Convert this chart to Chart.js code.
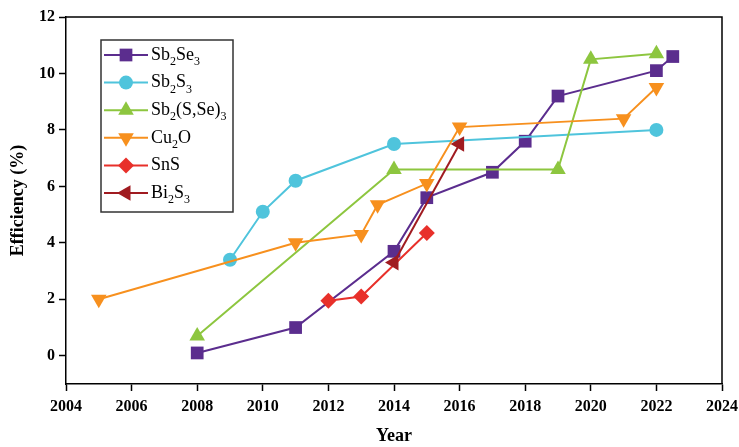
<!DOCTYPE html>
<html>
<head>
<meta charset="utf-8">
<script src="https://cdn.jsdelivr.net/npm/chart.js@4/dist/chart.umd.min.js"></script>
<style>
  html, body { margin: 0; padding: 0; background: #fff; }
  #wrap { width: 739px; height: 447px; }
</style>
</head>
<body>
<div id="wrap"><canvas id="eff_chart"></canvas></div>
<script>
// DATA (year, efficiency %)
const sb2se3_years = [2008, 2011, 2014, 2015, 2017, 2018, 2019, 2022, 2022.5];
const sb2se3_eff = [0.1, 1.0, 3.7, 5.6, 6.5, 7.6, 9.2, 10.1, 10.6];

const sb2s3_years = [2009, 2010, 2011, 2014, 2022];
const sb2s3_eff = [3.4, 5.1, 6.2, 7.5, 8.0];

const sb2sse3_years = [2008, 2014, 2019, 2020, 2022];
const sb2sse3_eff = [0.7, 6.6, 6.6, 10.5, 10.7];

const cu2o_years = [2005, 2011, 2013, 2013.5, 2015, 2016, 2021, 2022];
const cu2o_eff = [2.0, 4.0, 4.3, 5.35, 6.1, 8.1, 8.4, 9.5];

const sns_years = [2012, 2013, 2015];
const sns_eff = [1.95, 2.1, 4.35];

const bi2s3_years = [2014, 2016];
const bi2s3_eff = [3.3, 7.5];

// legend labels, parts flagged with 1 are drawn as subscripts
const legend_labels = [
	[['Sb'], ['2', 1], ['Se'], ['3', 1]],
	[['Sb'], ['2', 1], ['S'], ['3', 1]],
	[['Sb'], ['2', 1], ['(S,Se)'], ['3', 1]],
	[['Cu'], ['2', 1], ['O']],
	[['SnS']],
	[['Bi'], ['2', 1], ['S'], ['3', 1]]
];

const x_min = 2004, x_max = 2024;
const y_min = -1, y_max = 12;

const SERIF = "'Liberation Serif', 'DejaVu Serif', serif";

function pts(xs, ys) {
	return xs.map((x, i) => ({ x: x, y: ys[i] }));
}

function makeSet(label, xs, ys, color, style, radius, rotation) {
	return {
		label: label,
		data: pts(xs, ys),
		borderColor: color,
		backgroundColor: color,
		borderWidth: 2,
		pointStyle: style,
		pointRadius: radius,
		pointRotation: rotation || 0,
		pointBorderWidth: 0,
		pointBackgroundColor: color,
		fill: false,
		tension: 0
	};
}

const datasets = [
	makeSet('Sb2Se3', sb2se3_years, sb2se3_eff, '#5b2d8e', 'rect', 9),
	makeSet('Sb2S3', sb2s3_years, sb2s3_eff, '#4fc4dc', 'circle', 7),
	makeSet('Sb2(S,Se)3', sb2sse3_years, sb2sse3_eff, '#8dc63f', 'triangle', 9),
	makeSet('Cu2O', cu2o_years, cu2o_eff, '#f7901e', 'triangle', 9, 180),
	makeSet('SnS', sns_years, sns_eff, '#e8302a', 'rectRot', 8),
	makeSet('Bi2S3', bi2s3_years, bi2s3_eff, '#a01b20', 'triangle', 9, 270)
];
// later series are painted over earlier ones
datasets.forEach((d, i) => d.order = datasets.length - i);

// FRAME + LEGEND PLUGIN
const frameLegend = {
	id: 'frameLegend',
	afterDraw(chart) {
		const ctx = chart.ctx;
		const a = chart.chartArea;
		ctx.save();
		ctx.strokeStyle = '#000';
		ctx.lineWidth = 1.5;
		ctx.beginPath();
		ctx.moveTo(a.left, a.top);
		ctx.lineTo(a.right, a.top);
		ctx.lineTo(a.right, a.bottom);
		ctx.stroke();

		// legend box
		const bx = a.left + 35, by = a.top + 23, bw = 132, bh = 172;
		ctx.strokeStyle = '#333';
		ctx.lineWidth = 1.5;
		ctx.strokeRect(bx, by, bw, bh);

		datasets.forEach((ds, i) => {
			const y = by + 15 + i * 27.6;
			ctx.strokeStyle = ds.borderColor;
			ctx.lineWidth = 2;
			ctx.beginPath();
			ctx.moveTo(bx + 3, y);
			ctx.lineTo(bx + 47, y);
			ctx.stroke();
			ctx.fillStyle = ds.borderColor;
			Chart.helpers.drawPoint(ctx, {
				pointStyle: ds.pointStyle,
				radius: ds.pointRadius,
				rotation: ds.pointRotation,
				borderWidth: 0
			}, bx + 25, y);

			let tx = bx + 50;
			ctx.fillStyle = '#000';
			ctx.textBaseline = 'middle';
			ctx.textAlign = 'left';
			legend_labels[i].forEach(part => {
				if (part[1]) {
					ctx.font = '12px ' + SERIF;
					ctx.fillText(part[0], tx, y + 7);
				} else {
					ctx.font = '18px ' + SERIF;
					ctx.fillText(part[0], tx, y);
				}
				tx += ctx.measureText(part[0]).width;
			});
		});
		ctx.restore();
	}
};

const ctx = document.getElementById('eff_chart').getContext('2d');

new Chart(ctx, {
	type: 'line',
	data: { datasets: datasets },
	options: {
		responsive: true,
		maintainAspectRatio: false,
		animation: false,
		events: [],
		layout: { padding: { top: 17, right: 17, left: 0, bottom: 0 } },
		plugins: {
			legend: { display: false },
			tooltip: { enabled: false }
		},
		scales: {
			x: {
				type: 'linear',
				min: x_min,
				max: x_max,
				afterFit(scale) {
					scale.height = 63;
					scale.paddingLeft = 0;
					scale.paddingRight = 0;
				},
				ticks: {
					stepSize: 1,
					padding: 6,
					color: '#000',
					font: { family: SERIF, size: 16, weight: 'bold' },
					maxRotation: 0,
					autoSkip: false,
					callback: v => v % 2 === 0 ? String(v) : null
				},
				grid: { drawOnChartArea: false, drawTicks: true, tickLength: 7, color: '#000', tickWidth: 1.5 },
				border: { display: true, color: '#000', width: 1.5 },
				title: {
					display: true,
					text: 'Year',
					color: '#000',
					font: { family: SERIF, size: 18, weight: 'bold' },
					padding: { top: 0, bottom: 0 }
				}
			},
			y: {
				type: 'linear',
				min: y_min,
				max: y_max,
				afterFit(scale) { scale.width = 66; },
				ticks: {
					stepSize: 1,
					padding: 4,
					color: '#000',
					font: { family: SERIF, size: 16, weight: 'bold' },
					autoSkip: false,
					callback: v => (v >= 0 && v % 2 === 0) ? String(v) : null
				},
				grid: { drawOnChartArea: false, drawTicks: true, tickLength: 7, color: '#000', tickWidth: 1.5 },
				border: { display: true, color: '#000', width: 1.5 },
				title: {
					display: true,
					text: 'Efficiency (%)',
					color: '#000',
					font: { family: SERIF, size: 18, weight: 'bold' },
					padding: { top: 8, bottom: 0 }
				}
			}
		}
	},
	plugins: [frameLegend]
});
</script>
</body>
</html>
